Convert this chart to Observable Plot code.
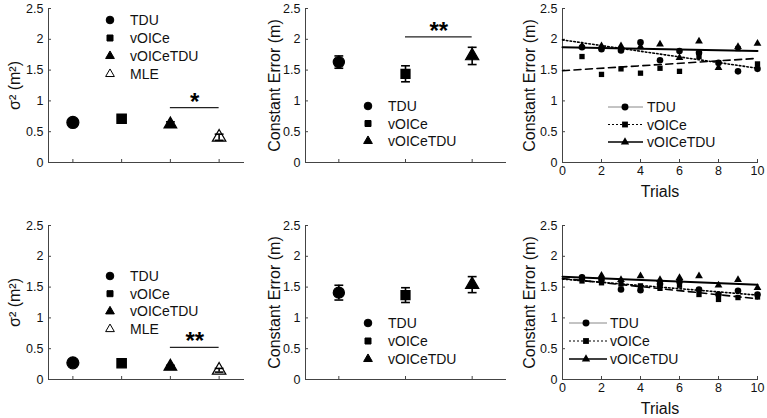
<!DOCTYPE html>
<html><head><meta charset="utf-8">
<script src="https://cdn.jsdelivr.net/npm/d3@7"></script>
<script src="https://cdn.jsdelivr.net/npm/@observablehq/plot@0.6"></script>
<style>
body{margin:0;background:#fff;}
#wrap{position:relative;width:767px;height:418px;overflow:hidden;background:#fff;font-family:"Liberation Sans",Arial,Helvetica,sans-serif;}
.panel{position:absolute;}
</style></head><body><div id="wrap"></div>
<script>
// ---------------- DATA ----------------
const yTicks = [0, 0.5, 1, 1.5, 2, 2.5];
const yDomain = [0, 2.5];

// variance panels (left column)
const varConds = ["TDU", "vOICe", "vOICeTDU", "MLE"];
const varMeanA = [0.65, 0.71, 0.62, 0.41];
const varErrA  = [0.04, 0.06, 0.04, 0.05];
const varMeanB = [0.27, 0.265, 0.21, 0.15];
const varErrB  = [0.02, 0.02, 0.02, 0.03];
const varSigPairA = ["vOICeTDU", "MLE"], varSigYA = 0.89, varSigLabelA = "*";
const varSigPairB = ["vOICeTDU", "MLE"], varSigYB = 0.52, varSigLabelB = "**";

// constant error panels (middle column)
const ceConds = ["TDU", "vOICe", "vOICeTDU"];
const ceMeanA = [1.63, 1.44, 1.73];
const ceErrA  = [0.10, 0.13, 0.14];
const ceMeanB = [1.41, 1.37, 1.54];
const ceErrB  = [0.12, 0.12, 0.13];
const ceSigPairA = ["vOICe", "vOICeTDU"], ceSigYA = 2.04, ceSigLabelA = "**";

// trial panels (right column)
const trials = [1, 2, 3, 4, 5, 6, 7, 8, 9, 10];
const trialTicks = [0, 2, 4, 6, 8, 10];
const tduA   = [1.87, 1.84, 1.82, 1.95, 1.66, 1.81, 1.78, 1.62, 1.48, 1.52];
const voiceA = [1.72, 1.43, 1.52, 1.45, 1.53, 1.48, 1.72, 1.62, 1.85, 1.60];
const vtA    = [1.89, 1.89, 1.89, 1.88, 1.92, 1.70, 1.97, 1.54, 1.88, 1.93];
const tduB   = [1.66, 1.62, 1.46, 1.45, 1.55, 1.59, 1.46, 1.38, 1.44, 1.38];
const voiceB = [1.60, 1.57, 1.55, 1.52, 1.48, 1.53, 1.38, 1.30, 1.33, 1.34];
const vtB    = [1.64, 1.69, 1.62, 1.68, 1.62, 1.65, 1.68, 1.53, 1.62, 1.49];
const trendX = [0, 10];
const tduTrendA = [1.99, 1.53], voiceTrendA = [1.49, 1.69], vtTrendA = [1.87, 1.81];
const tduTrendB = [1.63, 1.37], voiceTrendB = [1.64, 1.31], vtTrendB = [1.67, 1.54];

// ---------------- STYLE ----------------
const FONT = '"Liberation Sans", Arial, Helvetica, sans-serif';
const AX = "#444";
const symStyle = {
  TDU: {symbol: "circle", fill: "black"},
  vOICe: {symbol: "square", fill: "black"},
  vOICeTDU: {symbol: "triangle", fill: "black"},
  MLE: {symbol: "triangle", fill: "white"}
};
const hline = {draw(ctx, size) { const w = Math.sqrt(size) / 2; ctx.moveTo(-w, 0); ctx.lineTo(w, 0); }};
const wrap = document.getElementById("wrap");

function place(svg, left, top) {
  const d = document.createElement("div");
  d.className = "panel"; d.style.left = left + "px"; d.style.top = top + "px";
  d.appendChild(svg); wrap.appendChild(d);
}

function axesMarks(ylabel, labelOffset, xTicks, xFmt, xLabel) {
  return [
    Plot.frame({anchor: "left", stroke: AX}),
    Plot.frame({anchor: "bottom", stroke: AX}),
    Plot.axisY({ticks: yTicks, tickFormat: d => String(d), tickSize: -3, tickPadding: 8, label: null, fontSize: 12.5, stroke: AX, fill: "#111"}),
    Plot.axisY({ticks: [], label: ylabel, labelAnchor: "center", labelOffset, fontSize: 16, labelArrow: "none", fill: "#111"}),
    Plot.axisX({ticks: xTicks, tickFormat: xFmt, tickSize: -3, tickPadding: 7, label: null, fontSize: 12.5, stroke: AX, fill: "#111"}),
    ...(xLabel ? [Plot.axisX({ticks: [], label: xLabel, labelAnchor: "center", labelOffset: 34, fontSize: 16, labelArrow: "none", fill: "#111"})] : [])
  ];
}

function catPanel(o) {
  const rows = o.conds.map((c, i) => ({c, i: i + 1, v: o.mean[i], e: o.err[i]}));
  const idx = rows.map(r => r.i);
  const marks = [...axesMarks(o.ylabel, o.labelOffset, idx, () => "", null)];
  for (const r of rows) {
    const s = symStyle[r.c];
    marks.push(Plot.dot([r], {x: "i", y: "v", symbol: s.symbol, r: o.sizes[r.c], fill: s.fill, stroke: "black", strokeWidth: 1.2}));
    marks.push(Plot.ruleX([r], {x: "i", y1: d => d.v - d.e, y2: d => d.v + d.e, stroke: "black", strokeWidth: 1.6}));
    marks.push(Plot.dot([r, r], {x: "i", y: (d, k) => k ? d.v + d.e : d.v - d.e, symbol: hline, r: 5, fill: "none", stroke: "black", strokeWidth: 1.6}));
  }
  if (o.sigPair) {
    const sig = [{x1: o.conds.indexOf(o.sigPair[0]) + 1, x2: o.conds.indexOf(o.sigPair[1]) + 1, y: o.sigY, t: o.sigLabel}];
    marks.push(Plot.ruleY(sig, {x1: "x1", x2: "x2", y: "y", stroke: "#222", strokeWidth: 1.2}));
    marks.push(Plot.text(sig, {x: d => (d.x1 + d.x2) / 2, y: "y", text: "t", fontSize: 24, fontWeight: "bold", dy: 2, lineAnchor: "bottom", fill: "black"}));
  }
  return Plot.plot({
    width: o.width, height: 200, marginLeft: o.ml, marginRight: o.mr, marginTop: 8, marginBottom: 38,
    style: {fontFamily: FONT, background: "transparent", overflow: "visible", color: "#111"},
    x: {domain: [0.5, o.conds.length + 0.5]},
    y: {domain: yDomain},
    marks
  });
}

function trialPanel(o) {
  const pts = (vals, c) => trials.map((t, i) => ({t, v: vals[i], c}));
  const tr = (vals) => trendX.map((x, i) => ({x, v: vals[i]}));
  return Plot.plot({
    width: 257, height: 200, marginLeft: 52, marginRight: 10, marginTop: 8, marginBottom: 38,
    style: {fontFamily: FONT, background: "transparent", overflow: "visible", color: "#111"},
    x: {domain: [0, 10]},
    y: {domain: yDomain},
    marks: [
      ...axesMarks("Constant Error (m)", 39, trialTicks, d => String(d), "Trials"),
      Plot.line(tr(o.vtTrend), {x: "x", y: "v", stroke: "black", strokeWidth: 2}),
      Plot.line(tr(o.tduTrend), {x: "x", y: "v", stroke: "black", strokeWidth: 1.6, strokeDasharray: "1.6,2.2"}),
      Plot.line(tr(o.voiceTrend), {x: "x", y: "v", stroke: "black", strokeWidth: 1.6, strokeDasharray: "7,4.5"}),
      Plot.dot(pts(o.tdu, "TDU"), {x: "t", y: "v", symbol: "circle", r: 3.3, fill: "black"}),
      Plot.dot(pts(o.voice, "vOICe"), {x: "t", y: "v", symbol: "square", r: 3.0, fill: "black"}),
      Plot.dot(pts(o.vt, "vOICeTDU"), {x: "t", y: "v", symbol: "triangle", r: 2.9, fill: "black"})
    ]
  });
}

const varSizes = {TDU: 6, vOICe: 5.3, vOICeTDU: 4.7, MLE: 5.0};
place(catPanel({conds: varConds, mean: varMeanA, err: varErrA, sigPair: varSigPairA, sigY: varSigYA, sigLabel: varSigLabelA,
  ylabel: "σ² (m²)", labelOffset: 40, width: 255, ml: 48, mr: 12, sizes: varSizes}), 0, 0);
place(catPanel({conds: varConds, mean: varMeanB, err: varErrB, sigPair: varSigPairB, sigY: varSigYB, sigLabel: varSigLabelB,
  ylabel: "σ² (m²)", labelOffset: 40, width: 255, ml: 48, mr: 12, sizes: varSizes}), 0, 217);
const ceSizes = {TDU: 5.6, vOICe: 5.1, vOICeTDU: 4.9};
place(catPanel({conds: ceConds, mean: ceMeanA, err: ceErrA, sigPair: ceSigPairA, sigY: ceSigYA, sigLabel: ceSigLabelA,
  ylabel: "Constant Error (m)", labelOffset: 37, width: 255, ml: 50, mr: 5, sizes: ceSizes}), 255, 0);
place(catPanel({conds: ceConds, mean: ceMeanB, err: ceErrB, sigPair: null, sigY: 0, sigLabel: "",
  ylabel: "Constant Error (m)", labelOffset: 37, width: 255, ml: 50, mr: 5, sizes: ceSizes}), 255, 217);
place(trialPanel({tdu: tduA, voice: voiceA, vt: vtA, tduTrend: tduTrendA, voiceTrend: voiceTrendA, vtTrend: vtTrendA}), 510, 0);
place(trialPanel({tdu: tduB, voice: voiceB, vt: vtB, tduTrend: tduTrendB, voiceTrend: voiceTrendB, vtTrend: vtTrendB}), 510, 217);

// ---------------- LEGENDS ----------------
const ov = d3.select(wrap).append("svg").attr("width", 767).attr("height", 418)
  .style("position", "absolute").style("left", 0).style("top", 0).style("pointer-events", "none");
const symGen = {circle: d3.symbolCircle, square: d3.symbolSquare, triangle: d3.symbolTriangle};
const legSize = {circle: 46, square: 36, triangle: 33};
function symLegend(labels, mx, tx, y0, step) {
  labels.forEach((lab, i) => {
    const s = symStyle[lab], y = y0 + i * step;
    ov.append("path").attr("d", d3.symbol(symGen[s.symbol], legSize[s.symbol])())
      .attr("transform", `translate(${mx},${y})`).attr("fill", s.fill).attr("stroke", "black").attr("stroke-width", 1);
    ov.append("text").attr("x", tx).attr("y", y).attr("dy", "0.36em").attr("font-family", FONT).attr("font-size", 14).attr("fill", "#111").text(lab);
  });
}
const lineLeg = {
  TDU: {stroke: "#888", width: 1, dash: null},
  vOICe: {stroke: "black", width: 1.2, dash: "2,2"},
  vOICeTDU: {stroke: "black", width: 1.6, dash: null}
};
function lineLegend(labels, x1, x2, mx, tx, y0, step) {
  labels.forEach((lab, i) => {
    const s = symStyle[lab], l = lineLeg[lab], y = y0 + i * step;
    ov.append("line").attr("x1", x1).attr("x2", x2).attr("y1", y).attr("y2", y)
      .attr("stroke", l.stroke).attr("stroke-width", l.width).attr("stroke-dasharray", l.dash);
    ov.append("path").attr("d", d3.symbol(symGen[s.symbol], {circle: 38, square: 34, triangle: 30}[s.symbol])())
      .attr("transform", `translate(${mx},${y})`).attr("fill", "black");
    ov.append("text").attr("x", tx).attr("y", y).attr("dy", "0.36em").attr("font-family", FONT).attr("font-size", 14).attr("fill", "#111").text(lab);
  });
}
symLegend(varConds, 110, 130, 20, 18);
symLegend(varConds, 110, 130, 276, 17.7);
symLegend(ceConds, 368, 388, 106, 17.5);
symLegend(ceConds, 368, 388, 323, 18);
lineLegend(ceConds, 608, 643, 625, 647, 107, 17.5);
lineLegend(ceConds, 569, 607, 586, 610, 323, 18);
</script></body></html>
